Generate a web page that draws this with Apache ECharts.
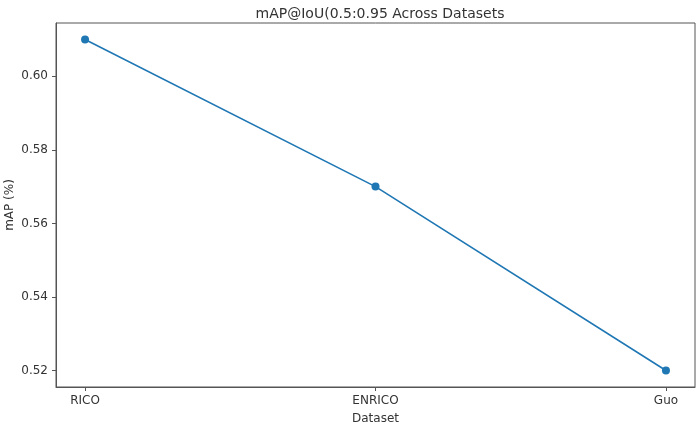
<!DOCTYPE html>
<html>
<head>
<meta charset="utf-8">
<script src="https://cdn.jsdelivr.net/npm/echarts@6/dist/echarts.min.js"></script>
<style>
html, body { margin: 0; padding: 0; background: #fff; }
#chart { width: 700px; height: 428px; }
</style>
</head>
<body>
<div id="chart"></div>
<script>
var datasets = ['RICO', 'ENRICO', 'Guo'];
var mapValues = [0.61, 0.57, 0.52];
var yTicks = [0.52, 0.54, 0.56, 0.58, 0.60];

var font = 'DejaVu Sans';
var points = [];
for (var i = 0; i < datasets.length; i++) {
    points.push([i, mapValues[i]]);
}
var xTicks = datasets.map(function (d, i) { return i; });

var option = {
    animation: false,
    backgroundColor: '#fff',
    title: {
        text: 'mAP@IoU(0.5:0.95 Across Datasets',
        left: 375,
        textAlign: 'center',
        top: 2,
        textStyle: { fontFamily: font, fontSize: 14, fontWeight: 'normal', color: '#333' }
    },
    grid: {
        left: 56, right: 5, top: 23, bottom: 41,
        outerBoundsMode: 'none',
        containLabel: false,
        show: true, borderColor: '#555', borderWidth: 1
    },
    xAxis: {
        type: 'value',
        min: -0.1,
        max: 2.1,
        name: 'Dataset',
        nameLocation: 'middle',
        nameGap: 26,
        nameMoveOverlap: false,
        nameTextStyle: { fontFamily: font, fontSize: 12, color: '#333' },
        axisLine: { show: true, onZero: false, lineStyle: { color: '#555' } },
        splitLine: { show: false },
        axisTick: { show: true, customValues: xTicks, length: 4, lineStyle: { color: '#555' } },
        axisLabel: {
            customValues: xTicks,
            fontFamily: font, fontSize: 12, color: '#333', margin: 8,
            formatter: function (v) { return datasets[Math.round(v)]; }
        }
    },
    yAxis: {
        type: 'value',
        min: 0.5155,
        max: 0.6145,
        name: 'mAP (%)',
        nameLocation: 'middle',
        nameGap: 40,
        nameMoveOverlap: false,
        nameTextStyle: { fontFamily: font, fontSize: 12, color: '#333' },
        axisLine: { show: true, onZero: false, lineStyle: { color: '#555' } },
        splitLine: { show: false },
        axisTick: { show: true, customValues: yTicks, length: 4, lineStyle: { color: '#555' } },
        axisLabel: {
            customValues: yTicks,
            fontFamily: font, fontSize: 12, color: '#333', margin: 8,
            formatter: function (v) { return v.toFixed(2); }
        }
    },
    series: [{
        type: 'line',
        data: points,
        symbol: 'circle',
        symbolSize: 8,
        itemStyle: { color: '#1f77b4' },
        lineStyle: { color: '#1f77b4', width: 1.6 }
    }]
};

var chart = echarts.init(document.getElementById('chart'));
chart.setOption(option);
</script>
</body>
</html>
